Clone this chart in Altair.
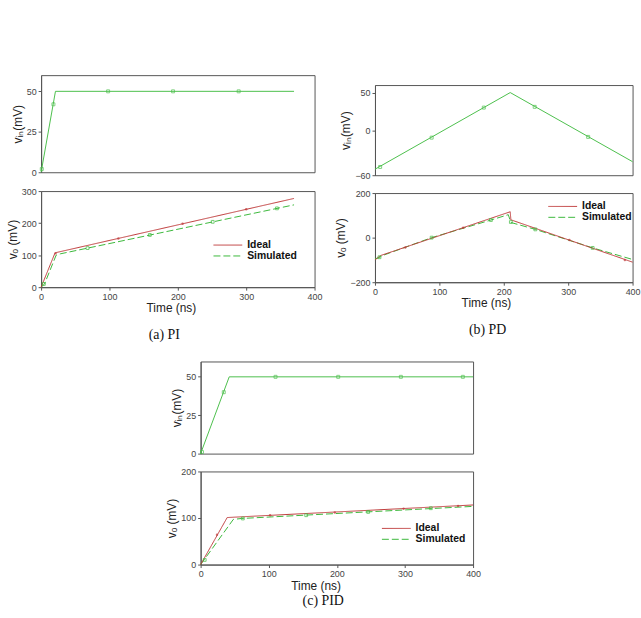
import altair as alt
import pandas as pd

# ---------------- PI controller ----------------
PI_VIN_T = [0, 21, 370]
PI_VIN_V = [0, 50, 50]
PI_VIN_MK_T = [1, 18, 98, 193, 289]
PI_VIN_MK_V = [2, 42, 50, 50, 50]
PI_IDEAL_T = [0, 20, 22, 370]
PI_IDEAL_V = [0, 105, 108, 277]
PI_IDEAL_MK_T = [21, 113, 207, 300]
PI_IDEAL_MK_V = [106, 152, 198, 243]
PI_SIM_T = [0, 5, 22, 28, 370]
PI_SIM_V = [0, 10, 100, 104, 257]
PI_SIM_MK_T = [4, 68, 159, 251, 345]
PI_SIM_MK_V = [10, 122, 163, 204, 246]

# ---------------- PD controller ----------------
PD_VIN_T = [0, 210, 400]
PD_VIN_V = [-52, 50, -42]
PD_VIN_MK_T = [8, 88, 169, 248, 331]
PD_VIN_MK_V = [-49, -10, 30, 31, -9]
PD_IDEAL_T = [0, 9, 210, 211, 400]
PD_IDEAL_V = [-100, -80, 116, 80, -110]
PD_IDEAL_MK_T = [47, 137, 302, 388]
PD_IDEAL_MK_V = [-44, 44, -11, -100]
PD_SIM_T = [0, 6, 12, 88, 180, 207, 211, 249, 338, 400]
PD_SIM_V = [-95, -90, -80, 0, 79, 103, 68, 37, -46, -98]
PD_SIM_MK_T = [7, 88, 180, 211, 249, 338]
PD_SIM_MK_V = [-88, 0, 79, 70, 37, -46]

# ---------------- PID controller ----------------
PID_VIN_T = [0, 42, 400]
PID_VIN_V = [0, 50, 50]
PID_VIN_MK_T = [2, 34, 110, 202, 294, 385]
PID_VIN_MK_V = [1, 40, 50, 50, 50, 50]
PID_IDEAL_T = [0, 39, 400]
PID_IDEAL_V = [0, 101, 128]
PID_IDEAL_MK_T = [24, 102, 197, 298, 378]
PID_IDEAL_MK_V = [64, 106, 112, 120, 126]
PID_SIM_T = [0, 5, 48, 60, 400]
PID_SIM_V = [0, 10, 97, 99, 125]
PID_SIM_MK_T = [6, 62, 155, 246, 338]
PID_SIM_MK_V = [10, 99, 106, 113, 121]

TIME_TICKS = [0, 100, 200, 300, 400]
SERIES = ["Ideal", "Simulated"]

VIN_GREEN = "#4cbf4c"
SIM_GREEN = "#3cb83c"
IDEAL_RED = "#bd3838"
FONT = "Liberation Sans"
SERIF = "Liberation Serif"

# a short horizontal stroke, drawn wider than its nominal symbol box
LEGEND_STROKE = "M-2.9,0H2.9"


def independent(ch):
    return ch.resolve_scale(color="independent", strokeDash="independent").resolve_legend(
        color="independent", strokeDash="independent")


def vin_panel(t, v, mt, mv, width, height, y_domain, y_ticks):
    line_df = pd.DataFrame({"t": t, "v": v, "i": range(len(t))})
    mk_df = pd.DataFrame({"t": mt, "v": mv})
    x = alt.X("t:Q", scale=alt.Scale(domain=[0, 400], nice=False), axis=None)
    y = alt.Y("v:Q", scale=alt.Scale(domain=y_domain, nice=False, zero=False),
              axis=alt.Axis(values=y_ticks, title="vᵢₙ(mV)"))
    line = alt.Chart(line_df).mark_line(color=VIN_GREEN, strokeWidth=1).encode(
        x=x, y=y, order="i:Q")
    pts = alt.Chart(mk_df).mark_point(shape="square", size=9, color=VIN_GREEN,
                                      filled=False, strokeWidth=1).encode(x=x, y=y)
    return alt.layer(line, pts).properties(width=width, height=height)


def spacer(width, height):
    # empty strip that pushes the panel below it down
    return alt.Chart(pd.DataFrame({"s": [0]})).mark_point(
        opacity=0, size=0, strokeWidth=0).encode(
        x=alt.X("s:Q", axis=None), y=alt.Y("s:Q", axis=None)
    ).properties(width=width, height=height, view=alt.ViewBackground(stroke=None))


def vo_panel(it, iv, st, sv, imt, imv, smt, smv, width, height,
             y_domain, y_ticks, leg_x, leg_y, title_x):
    rows = []
    for name, ts, vs in (("Simulated", st, sv), ("Ideal", it, iv)):
        for k, (tt, vv) in enumerate(zip(ts, vs)):
            rows.append({"t": tt, "v": vv, "series": name, "i": k})
    df = pd.DataFrame(rows)
    x = alt.X("t:Q", scale=alt.Scale(domain=[0, 400], nice=False),
              axis=alt.Axis(values=TIME_TICKS, title="Time (ns)", labelFlush=False,
                            titleX=title_x))
    y = alt.Y("v:Q", scale=alt.Scale(domain=y_domain, nice=False, zero=False),
              axis=alt.Axis(values=y_ticks, title="vₒ (mV)"))
    legend = alt.Legend(title=None, orient="none", legendX=leg_x, legendY=leg_y,
                        symbolType=LEGEND_STROKE, symbolSize=100, symbolStrokeWidth=1,
                        labelFont=FONT, labelFontSize=10.5, labelFontWeight="bold",
                        labelColor="#111", labelOffset=14, rowPadding=0)
    lines = alt.Chart(df).mark_line(strokeWidth=1).encode(
        x=x, y=y,
        color=alt.Color("series:N", scale=alt.Scale(domain=SERIES, range=[IDEAL_RED, SIM_GREEN]),
                        legend=legend),
        strokeDash=alt.StrokeDash("series:N", scale=alt.Scale(domain=SERIES, range=[[1, 0], [7, 3]]),
                                  legend=legend),
        order="i:Q",
    )
    sim_pts = alt.Chart(pd.DataFrame({"t": smt, "v": smv})).mark_point(
        shape="square", size=8, color=SIM_GREEN, filled=False, strokeWidth=1).encode(x=x, y=y)
    ideal_pts = alt.Chart(pd.DataFrame({"t": imt, "v": imv})).mark_point(
        shape="circle", size=6, color=IDEAL_RED, filled=True).encode(x=x, y=y)
    return alt.layer(lines, sim_pts, ideal_pts).properties(width=width, height=height)


def caption(text, offset):
    return alt.TitleParams(text, orient="bottom", anchor="middle", font=SERIF,
                           fontSize=14, fontWeight="normal", color="#111", offset=offset)


panel_a = independent(alt.vconcat(
    vin_panel(PI_VIN_T, PI_VIN_V, PI_VIN_MK_T, PI_VIN_MK_V, 276, 98, [0, 60], [0, 25, 50]),
    vo_panel(PI_IDEAL_T, PI_IDEAL_V, PI_SIM_T, PI_SIM_V, PI_IDEAL_MK_T, PI_IDEAL_MK_V,
             PI_SIM_MK_T, PI_SIM_MK_V, 276, 97, [0, 300], [0, 100, 200, 300], 183, 49, 131),
    spacing=8,
).properties(title=caption("(a) PI", 14)))

panel_b = independent(alt.vconcat(
    spacer(260, 2),
    vin_panel(PD_VIN_T, PD_VIN_V, PD_VIN_MK_T, PD_VIN_MK_V, 260, 91, [-60, 60], [-60, 0, 50]),
    vo_panel(PD_IDEAL_T, PD_IDEAL_V, PD_SIM_T, PD_SIM_V, PD_IDEAL_MK_T, PD_IDEAL_MK_V,
             PD_SIM_MK_T, PD_SIM_MK_V, 260, 90, [-200, 200], [-200, 0, 200], 184, 8, 112),
    spacing=7,
).properties(title=caption("(b) PD", 14)))

panel_c = independent(alt.vconcat(
    vin_panel(PID_VIN_T, PID_VIN_V, PID_VIN_MK_T, PID_VIN_MK_V, 275, 93, [0, 60], [0, 25, 50]),
    vo_panel(PID_IDEAL_T, PID_IDEAL_V, PID_SIM_T, PID_SIM_V, PID_IDEAL_MK_T, PID_IDEAL_MK_V,
             PID_SIM_MK_T, PID_SIM_MK_V, 275, 94, [0, 200], [0, 100, 200], 192, 52, 116),
    spacing=7,
).properties(title=caption("(c) PID", 2)))

top_row = independent(alt.hconcat(panel_a, panel_b, spacing=11))

chart = independent(alt.vconcat(top_row, panel_c, spacing=18, center=True)).properties(
    padding={"left": 5, "top": 72, "right": 0, "bottom": 0}
).configure_view(
    stroke="#555", strokeWidth=1
).configure_axis(
    labelFont=FONT, labelFontSize=9, labelColor="#444",
    titleFont=FONT, titleFontSize=12, titleColor="#222", titleFontWeight="normal",
    domainColor="#555", tickColor="#555", tickSize=3, grid=False,
    labelPadding=2, titlePadding=2,
)

chart.save("out.html", embed_options={"renderer": "svg", "actions": False})
